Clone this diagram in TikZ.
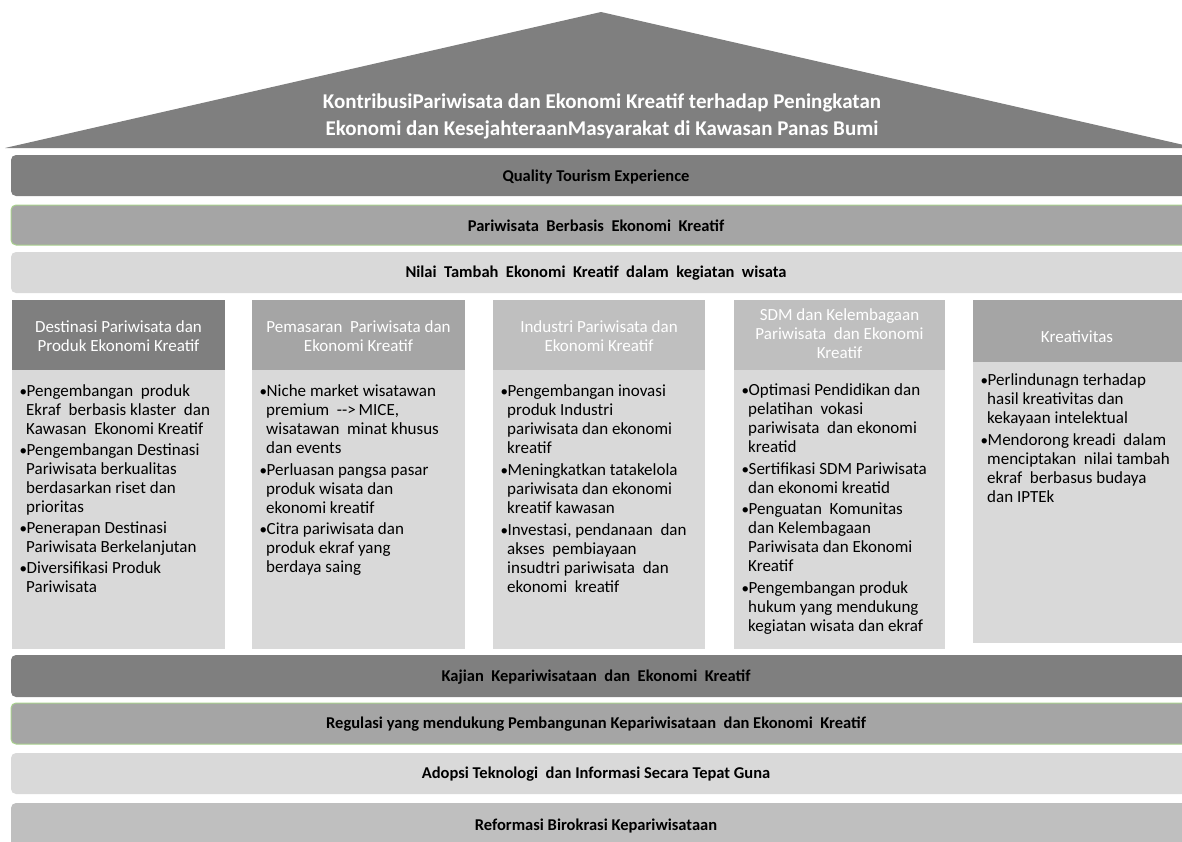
\documentclass[tikz,border=0pt]{standalone}
\usepackage{fontspec}
\setmainfont{Carlito}
\definecolor{dk}{HTML}{7F7F7F}
\definecolor{md}{HTML}{A5A5A5}
\definecolor{lt}{HTML}{BFBFBF}
\definecolor{pl}{HTML}{D9D9D9}
\definecolor{grn}{HTML}{A9D18E}
\newcommand{\xbul}{\makebox[7.5pt][l]{\hspace{0.5pt}{\fontsize{15}{19}\selectfont•}}}
\newcommand{\xcnt}{\hspace*{7pt}}
\tikzset{
  bartxt/.style={font=\fontsize{16.5}{18}\selectfont\bfseries, text=black, inner sep=0pt},
  hdrtxt/.style={font=\fontsize{17}{19}\selectfont, text=white, align=center, inner sep=0pt},
  bodytxt/.style={font=\fontsize{17}{19}\selectfont, text=black, align=left, inner sep=0pt, anchor=north west},
  barshape/.style={rounded corners=5pt},
}
\begin{document}
\begin{tikzpicture}[x=1pt,y=-1pt]
\path[use as bounding box] (0,0) rectangle (1182,841);
\clip (0,0) rectangle (1182,841);
% roof
\fill[dk] (5,148) -- (601,12) -- (1197,148) -- cycle;
\node[font=\fontsize{21}{27}\selectfont\bfseries, text=white, align=center, inner sep=0pt] (title) at (602,116)
  {KontribusiPariwisata dan Ekonomi Kreatif terhadap Peningkatan\\Ekonomi dan KesejahteraanMasyarakat di Kawasan  Panas Bumi};
% top bars
\fill[dk, barshape] (11,155) rectangle (1195,196);
\node[bartxt] (q) at (596,177) {Quality Tourism Experience};
\filldraw[fill=md, draw=grn, line width=1pt, barshape] (11,205) rectangle (1195,245);
\node[bartxt] (p) at (596,226) {Pariwisata\ \ Berbasis\ \ Ekonomi\ \ Kreatif};
\fill[pl, barshape] (11,252) rectangle (1195,293);
\node[bartxt] (n) at (596,273) {Nilai\ \ Tambah\ \ Ekonomi\ \ Kreatif\ \ dalam\ \ kegiatan\ \ wisata};
% columns
\fill[dk] (12,300) rectangle (225,370);
\fill[pl] (12,370) rectangle (225,649);
\fill[md] (252,300) rectangle (465,370);
\fill[pl] (252,370) rectangle (465,649);
\fill[lt] (493,300) rectangle (705,370);
\fill[pl] (493,370) rectangle (705,649);
\fill[lt] (734,300) rectangle (945,370);
\fill[pl] (734,370) rectangle (945,649);
\fill[md] (973,300) rectangle (1195,362);
\fill[pl] (973,362) rectangle (1195,643);
\node[hdrtxt] (h1) at (118.5,336) {Destinasi Pariwisata dan\\Produk Ekonomi Kreatif};
\node[hdrtxt] (h2) at (358.5,336) {Pemasaran\ \ Pariwisata dan\\Ekonomi Kreatif};
\node[hdrtxt] (h3) at (599,336) {Industri Pariwisata dan\\Ekonomi Kreatif};
\node[hdrtxt] (h4) at (839.5,334) {SDM dan Kelembagaan\\Pariwisata\ \ dan Ekonomi\\Kreatif};
\node[hdrtxt] (h5) at (1077,337) {Kreativitas};
\node[bodytxt] (b1) at (19,384) {%
\xbul Pengembangan\ \ produk\\\xcnt Ekraf\ \ berbasis klaster\ \ dan\\\xcnt Kawasan\ \ Ekonomi Kreatif\\[2pt]%
\xbul Pengembangan Destinasi\\\xcnt Pariwisata berkualitas\\\xcnt berdasarkan riset dan\\\xcnt prioritas\\[2pt]%
\xbul Penerapan Destinasi\\\xcnt Pariwisata Berkelanjutan\\[2pt]%
\xbul Diversifikasi Produk\\\xcnt Pariwisata};
\node[bodytxt] (b2) at (259,384) {%
\xbul Niche market wisatawan\\\xcnt premium\ \ \mbox{-}\mbox{-}>\,MICE,\\\xcnt wisatawan\ \ minat khusus\\\xcnt dan events\\[3pt]%
\xbul Perluasan pangsa pasar\\\xcnt produk wisata dan\\\xcnt ekonomi kreatif\\[2pt]%
\xbul Citra pariwisata dan\\\xcnt produk ekraf yang\\\xcnt berdaya saing};
\node[bodytxt] (b3) at (500,384) {%
\xbul Pengembangan inovasi\\\xcnt produk Industri\\\xcnt pariwisata dan ekonomi\\\xcnt kreatif\\[3pt]%
\xbul Meningkatkan tatakelola\\\xcnt pariwisata dan ekonomi\\\xcnt kreatif kawasan\\[3pt]%
\xbul Investasi, pendanaan\ \ dan\\\xcnt akses\ \ pembiayaan\\\xcnt insudtri pariwisata\ \ dan\\\xcnt ekonomi\ \ kreatif};
\node[bodytxt] (b4) at (741,383) {%
\xbul Optimasi Pendidikan dan\\\xcnt pelatihan\ \ vokasi\\\xcnt pariwisata\ \ dan ekonomi\\\xcnt kreatid\\[3pt]%
\xbul Sertifikasi SDM Pariwisata\\\xcnt dan ekonomi kreatid\\[2pt]%
\xbul Penguatan\ \ Komunitas\\\xcnt dan Kelembagaan\\\xcnt Pariwisata dan Ekonomi\\\xcnt Kreatif\\[3pt]%
\xbul Pengembangan produk\\\xcnt hukum yang mendukung\\\xcnt kegiatan wisata dan ekraf};
\node[bodytxt] (b5) at (980,373) {%
\xbul Perlindunagn terhadap\\\xcnt hasil kreativitas dan\\\xcnt kekayaan intelektual\\[3pt]%
\xbul Mendorong kreadi\ \ dalam\\\xcnt menciptakan\ \ nilai tambah\\\xcnt ekraf\ \ berbasus budaya\\\xcnt dan IPTEk};
% bottom bars
\fill[dk, barshape] (11,655) rectangle (1195,697);
\node[bartxt] (k) at (596,677) {Kajian\ \ Kepariwisataan\ \ dan\ \ Ekonomi\ \ Kreatif};
\filldraw[fill=md, draw=grn, line width=1pt, barshape] (11,703) rectangle (1195,744);
\node[bartxt] (r) at (596,724) {Regulasi yang mendukung Pembangunan Kepariwisataan\ \ dan Ekonomi\ \ Kreatif};
\fill[pl, barshape] (11,753) rectangle (1195,794);
\node[bartxt] (a) at (596,774) {Adopsi Teknologi\ \ dan Informasi Secara Tepat Guna};
\fill[lt, barshape] (11,803) rectangle (1195,850);
\node[bartxt] (rf) at (596,826) {Reformasi Birokrasi Kepariwisataan};
\end{tikzpicture}
\end{document}
